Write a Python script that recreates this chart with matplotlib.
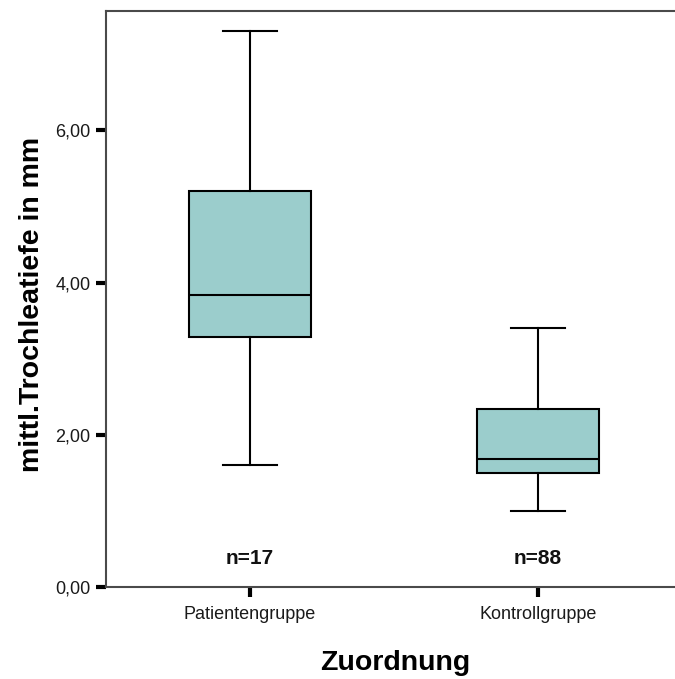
import matplotlib
matplotlib.use("Agg")
import matplotlib.pyplot as plt

plt.rcParams["font.family"] = ["Liberation Sans", "DejaVu Sans"]

# box statistics per group (mm)
groups = ["Patientengruppe", "Kontrollgruppe"]
n_obs = [17, 88]
whisker_lo = [1.61, 1.00]
q1 = [3.29, 1.505]
median = [3.84, 1.69]
q3 = [5.21, 2.34]
whisker_hi = [7.31, 3.40]
yticks = [0.0, 2.0, 4.0, 6.0]

FILL = "#9bcdcc"
SPINE = "#4a4a4a"

stats = [dict(label=g, whislo=lo, q1=a, med=m, q3=b, whishi=hi, fliers=[])
         for g, lo, a, m, b, hi in zip(groups, whisker_lo, q1, median, q3, whisker_hi)]

fig = plt.figure(figsize=(6.75, 6.79), dpi=100)
ax = fig.add_axes([0.157, 0.135, 0.8533, 0.849])

pos = [1, 2]
ax.bxp(stats, positions=pos, widths=0.425, patch_artist=True, showfliers=False,
       boxprops=dict(facecolor=FILL, edgecolor="black", linewidth=1.5),
       medianprops=dict(color="black", linewidth=1.5),
       whiskerprops=dict(color="black", linewidth=1.5),
       capprops=dict(color="black", linewidth=1.5),
       capwidths=0.19)

for p, n in zip(pos, n_obs):
    ax.text(p, 0.385, f"n={n}", ha="center", va="center", fontsize=15,
            fontweight="bold", color="#111111")

ax.set_xlim(0.5, 2.5)
ax.set_ylim(0, 7.57)
ax.set_yticks(yticks)
ax.set_yticklabels([f"{v:.2f}".replace(".", ",") for v in yticks])
ax.set_xticks(pos)
ax.set_xticklabels(groups)

for s in ["left", "top", "bottom"]:
    ax.spines[s].set_color(SPINE)
    ax.spines[s].set_linewidth(1.5)
ax.spines["right"].set_visible(False)

ax.tick_params(axis="both", direction="out", length=7.2, width=3, color="black",
               labelsize=13, labelcolor="#1a1a1a")
ax.tick_params(axis="y", pad=4)
ax.tick_params(axis="x", pad=6)

ax.set_ylabel("mittl.Trochleatiefe in mm", fontsize=20.5, fontweight="bold")
ax.set_xlabel("Zuordnung", fontsize=20.5, fontweight="bold")
ax.yaxis.set_label_coords(-0.106, 0.49)
ax.xaxis.set_label_coords(0.502, -0.108)

fig.savefig("out.png", dpi=100)
